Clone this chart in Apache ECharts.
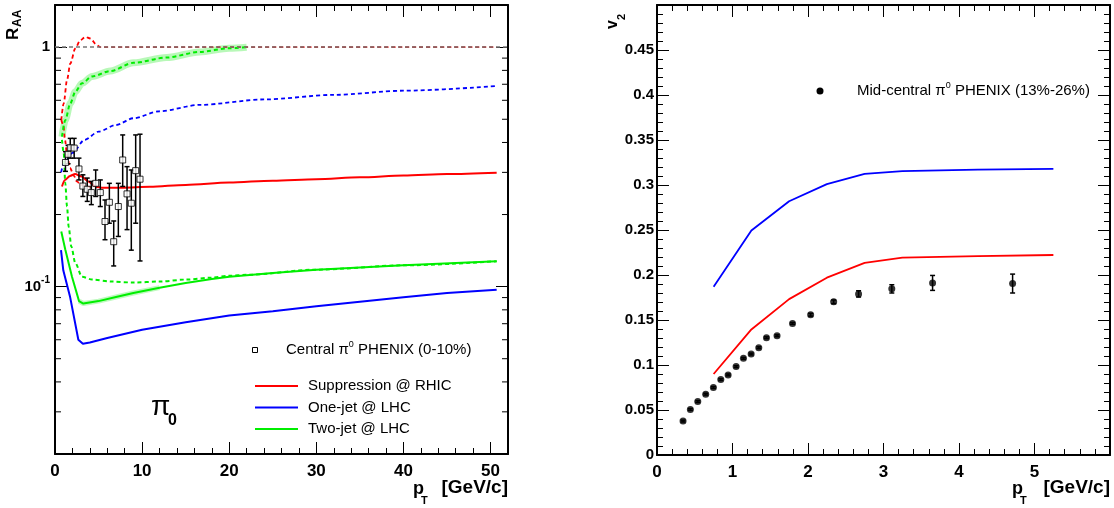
<!DOCTYPE html>
<html><head><meta charset="utf-8">
<script src="https://cdn.jsdelivr.net/npm/echarts@6/dist/echarts.min.js"></script>
<style>html,body{margin:0;padding:0;background:#fff}#c{width:1114px;height:508px}</style>
</head><body><div id="c"></div>
<script>
// ---------------- Left panel: R_AA vs pT ----------------
const phenixPt  = [1.2, 1.5, 1.75, 2.2, 2.75, 3.2, 3.7, 4.17, 4.67, 5.2, 5.74, 6.24, 6.74, 7.27, 7.77, 8.27, 8.76, 9.26, 9.76];
const phenixRaa = [0.330, 0.357, 0.380, 0.379, 0.310, 0.263, 0.255, 0.247, 0.270, 0.247, 0.187, 0.225, 0.154, 0.216, 0.338, 0.244, 0.223, 0.305, 0.281];
const phenixHi  = [0.366, 0.389, 0.416, 0.416, 0.344, 0.293, 0.284, 0.275, 0.307, 0.279, 0.230, 0.270, 0.188, 0.270, 0.430, 0.317, 0.307, 0.430, 0.433];
const phenixLo  = [0.303, 0.326, 0.344, 0.344, 0.279, 0.238, 0.227, 0.220, 0.238, 0.216, 0.157, 0.184, 0.122, 0.162, 0.262, 0.173, 0.142, 0.184, 0.128];

const rhicPt  = [0.8, 1.15, 1.72, 2.3, 3.06, 3.83, 4.6, 5.36, 7.65, 10.9, 15, 20, 25, 30, 35, 40, 45, 50.7];
const rhicVal = [0.262, 0.279, 0.290, 0.295, 0.288, 0.275, 0.263, 0.259, 0.259, 0.261, 0.266, 0.272, 0.277, 0.281, 0.286, 0.291, 0.295, 0.299];
const rhicUpPt  = [0.72, 1.0, 1.38, 1.76, 2.33, 2.9, 3.48, 4.05, 4.8, 5.2, 10, 20, 30, 40, 50.7];
const rhicUpVal = [0.496, 0.583, 0.729, 0.855, 0.988, 1.069, 1.104, 1.087, 1.02, 1.0, 1.0, 1.0, 1.0, 1.0, 1.0];
const rhicLoPt  = [0.72, 0.95, 1.15, 1.38, 1.72, 2.18, 2.5, 3.0, 4.0, 5.4];
const rhicLoVal = [0.496, 0.473, 0.41, 0.355, 0.313, 0.29, 0.275, 0.266, 0.261, 0.259];

const oneJetPt  = [0.69, 0.95, 1.72, 2.68, 3.2, 4.0, 6.0, 10, 15, 20, 25, 30, 35, 40, 45, 50.7];
const oneJetVal = [0.142, 0.117, 0.091, 0.060, 0.0577, 0.0584, 0.061, 0.066, 0.071, 0.0757, 0.079, 0.0828, 0.0865, 0.0902, 0.094, 0.0971];
const oneJetDashPt  = [0.7, 1.0, 2.0, 3.4, 5.0, 7.0, 9.0, 12.0, 16.6, 24.0, 32.0, 40.0, 50.7];
const oneJetDashVal = [0.30, 0.325, 0.362, 0.41, 0.444, 0.473, 0.505, 0.54, 0.574, 0.605, 0.632, 0.658, 0.688];

const twoJetPt  = [0.72, 1.18, 1.95, 2.76, 3.25, 5, 7, 9, 12, 15, 18, 20, 25, 30, 40, 50.7];
const twoJetVal = [0.170, 0.143, 0.110, 0.087, 0.085, 0.087, 0.0905, 0.094, 0.099, 0.1035, 0.1075, 0.110, 0.114, 0.1177, 0.1227, 0.1276];
const twoJetBandPt  = [2.76, 3.25, 5, 7, 9, 12];
const twoJetBandVal = [0.087, 0.085, 0.087, 0.0905, 0.094, 0.099];
const twoJetUpPt  = [0.8, 1.18, 1.76, 2.33, 3.1, 4.25, 6.35, 9, 12.8, 16.6, 20, 22];
const twoJetUpVal = [0.423, 0.496, 0.583, 0.651, 0.706, 0.755, 0.795, 0.86, 0.905, 0.955, 0.99, 1.0];
const twoJetLoPt  = [0.8, 1.0, 1.18, 1.38, 1.57, 1.87, 2.33, 3.1, 4.25, 6.5, 9, 12, 15, 18, 20, 22, 30, 40, 50.7];
const twoJetLoVal = [0.41, 0.362, 0.270, 0.216, 0.178, 0.147, 0.1255, 0.110, 0.107, 0.105, 0.104, 0.105, 0.107, 0.109, 0.111, 0.112, 0.1177, 0.1227, 0.1276];

const logMajorTicks = [0.1, 1];
const logMinorTicks = [0.03, 0.04, 0.05, 0.06, 0.07, 0.08, 0.09, 0.2, 0.3, 0.4, 0.5, 0.6, 0.7, 0.8, 0.9];

// ---------------- Right panel: v2 vs pT ----------------
const v2Pt  = [0.345, 0.442, 0.54, 0.645, 0.747, 0.845, 0.942, 1.048, 1.145, 1.247, 1.348, 1.45, 1.59, 1.795, 2.035, 2.34, 2.67, 3.11, 3.65, 4.71];
const v2Val = [0.0377, 0.0506, 0.0594, 0.0676, 0.075, 0.0838, 0.089, 0.0982, 0.1074, 0.1122, 0.1192, 0.1303, 0.1325, 0.1462, 0.1558, 0.1702, 0.179, 0.1846, 0.1912, 0.1905];
const v2Err = [0.001, 0.001, 0.001, 0.001, 0.001, 0.001, 0.001, 0.001, 0.001, 0.001, 0.001, 0.001, 0.001, 0.001, 0.0015, 0.002, 0.0035, 0.0046, 0.0083, 0.0105];
const modelPt   = [0.75, 1.25, 1.75, 2.25, 2.75, 3.25, 4.25, 5.25];
const oneJetV2  = [0.187, 0.2495, 0.282, 0.301, 0.3123, 0.3155, 0.317, 0.318];
const rhicV2    = [0.090, 0.1395, 0.1732, 0.197, 0.2134, 0.2192, 0.221, 0.2222];

// ---------------- helpers ----------------
const zip = (xs, ys) => xs.map((x, i) => [x, ys[i]]);
const FONT = '"Liberation Sans", Arial, Helvetica, sans-serif';
const RED = '#ff0000', BLUE = '#0000ff', GREEN = '#00ee00';

function baseX(grid, max, pos, labels) {
  return {
    gridIndex: grid, type: 'value', min: 0, max: max, interval: max > 10 ? 10 : 1, position: pos,
    axisLine: { show: true, onZero: false, lineStyle: { color: '#000', width: 2 } },
    axisTick: { show: true, inside: true, length: 12, lineStyle: { color: '#000', width: 1 } },
    minorTick: { show: true, splitNumber: 5, length: 6, lineStyle: { color: '#000', width: 1 } },
    splitLine: { show: false }, minorSplitLine: { show: false },
    axisLabel: labels ? { show: true, fontSize: 17, fontWeight: 'bold', color: '#000', fontFamily: FONT, margin: 9, showMaxLabel: false } : { show: false }
  };
}
function baseLogY(pos, labels) {
  return {
    gridIndex: 0, type: 'log', logBase: 10, min: 0.02, max: 1.5, position: pos,
    axisLine: { show: true, onZero: false, lineStyle: { color: '#000', width: 2 } },
    axisTick: { show: true, inside: true, length: 12, lineStyle: { color: '#000', width: 1 } },
    minorTick: { show: false }, splitLine: { show: false },
    axisLabel: labels ? {
      show: true, fontSize: 15, fontWeight: 'bold', color: '#000', fontFamily: FONT, margin: 5,
      showMinLabel: false, showMaxLabel: false,
      formatter: v => Math.abs(v - logMajorTicks[1]) < 1e-9 ? '1' : (Math.abs(v - logMajorTicks[0]) < 1e-9 ? '{m|10}{e|-1}' : ''),
      rich: {
        m: { fontSize: 15, fontWeight: 'bold', color: '#000', fontFamily: FONT, lineHeight: 22 },
        e: { fontSize: 10, fontWeight: 'bold', color: '#000', fontFamily: FONT, lineHeight: 11, verticalAlign: 'top' }
      }
    } : { show: false }
  };
}
function baseLinY(pos, labels) {
  return {
    gridIndex: 1, type: 'value', min: 0, max: 0.5, interval: 0.05, position: pos,
    axisLine: { show: true, onZero: false, lineStyle: { color: '#000', width: 2 } },
    axisTick: { show: true, inside: true, length: 12, lineStyle: { color: '#000', width: 1 } },
    minorTick: { show: true, splitNumber: 5, length: 6, lineStyle: { color: '#000', width: 1 } },
    splitLine: { show: false }, minorSplitLine: { show: false },
    axisLabel: labels ? { show: true, fontSize: 15, fontWeight: 'bold', color: '#000', fontFamily: FONT, margin: 3, showMaxLabel: false } : { show: false }
  };
}
function lineSeries(xs, ys, color, dashed, width, xi, yi, z, extra) {
  return Object.assign({
    type: 'line', xAxisIndex: xi, yAxisIndex: yi, data: zip(xs, ys), symbol: 'none', showSymbol: false,
    smooth: 0.3, smoothMonotone: 'x', silent: true, z: z || 2,
    lineStyle: { color: color, width: width || 2, type: dashed ? [4, 3] : 'solid' }
  }, extra || {});
}
function errRender(capHalf, width) {
  return function (params, api) {
    const x = api.value(0), lo = api.value(1), hi = api.value(2);
    const a = api.coord([x, lo]), b = api.coord([x, hi]);
    const st = { stroke: '#000', lineWidth: width };
    return { type: 'group', children: [
      { type: 'line', shape: { x1: a[0], y1: a[1], x2: b[0], y2: b[1] }, style: st },
      { type: 'line', shape: { x1: a[0] - capHalf, y1: a[1], x2: a[0] + capHalf, y2: a[1] }, style: st },
      { type: 'line', shape: { x1: b[0] - capHalf, y1: b[1], x2: b[0] + capHalf, y2: b[1] }, style: st }
    ] };
  };
}

const series = [
  // green bands (uncertainty) around the two-jet curves
  lineSeries(twoJetUpPt, twoJetUpVal, 'rgba(0,230,0,0.28)', false, 7, 0, 0, 1),
  lineSeries(twoJetBandPt, twoJetBandVal, 'rgba(0,230,0,0.25)', false, 5, 0, 0, 1, { smooth: false }),
  // reference line at 1 + red dashed
  lineSeries(rhicUpPt, rhicUpVal, RED, true, 1.8, 0, 0, 2, {
    markLine: { silent: true, symbol: 'none', label: { show: false },
      lineStyle: { color: '#777', type: [4, 3], width: 1.5 }, data: [{ yAxis: 1 }] }
  }),
  lineSeries(rhicLoPt, rhicLoVal, RED, true, 1.8, 0, 0, 2),
  lineSeries(twoJetUpPt, twoJetUpVal, GREEN, true, 2, 0, 0, 3),
  lineSeries(twoJetLoPt, twoJetLoVal, GREEN, true, 2, 0, 0, 3),
  lineSeries(oneJetDashPt, oneJetDashVal, BLUE, true, 1.8, 0, 0, 2),
  lineSeries(rhicPt, rhicVal, RED, false, 2, 0, 0, 3),
  lineSeries(oneJetPt, oneJetVal, BLUE, false, 2, 0, 0, 3, { smooth: false }),
  lineSeries(twoJetPt, twoJetVal, GREEN, false, 2, 0, 0, 3, { smooth: false }),
  // log minor ticks (left & right frame)
  {
    type: 'custom', xAxisIndex: 0, yAxisIndex: 0, silent: true, clip: false, z: 6,
    data: logMinorTicks.map(v => [0, v]), encode: { x: 0, y: 1 },
    renderItem: (p, api) => {
      const v = api.value(1);
      const a = api.coord([0, v]), b = api.coord([52, v]);
      const st = { stroke: '#000', lineWidth: 1 };
      return { type: 'group', children: [
        { type: 'line', shape: { x1: a[0], y1: a[1], x2: a[0] + 6, y2: a[1] }, style: st },
        { type: 'line', shape: { x1: b[0] - 6, y1: b[1], x2: b[0], y2: b[1] }, style: st }
      ] };
    }
  },
  // PHENIX R_AA
  {
    type: 'custom', xAxisIndex: 0, yAxisIndex: 0, silent: true, z: 7,
    data: phenixPt.map((x, i) => [x, phenixLo[i], phenixHi[i]]), encode: { x: 0, y: [1, 2] },
    renderItem: errRender(2.5, 1.5)
  },
  {
    type: 'scatter', xAxisIndex: 0, yAxisIndex: 0, silent: true, z: 8,
    data: zip(phenixPt, phenixRaa), symbol: 'rect', symbolSize: 6,
    itemStyle: { color: '#fff', borderColor: '#000', borderWidth: 1 }
  },
  // right panel
  lineSeries(modelPt, oneJetV2, BLUE, false, 1.8, 2, 2, 3, { smooth: false }),
  lineSeries(modelPt, rhicV2, RED, false, 1.8, 2, 2, 3, { smooth: false }),
  {
    type: 'custom', xAxisIndex: 2, yAxisIndex: 2, silent: true, z: 7,
    data: v2Pt.map((x, i) => [x, v2Val[i] - v2Err[i], v2Val[i] + v2Err[i]]), encode: { x: 0, y: [1, 2] },
    renderItem: errRender(2.5, 1.5)
  },
  {
    type: 'scatter', xAxisIndex: 2, yAxisIndex: 2, silent: true, z: 8,
    data: zip(v2Pt, v2Val), symbol: 'circle', symbolSize: 7, itemStyle: { color: '#000' }
  }
];

const txt = (x, y, text, size, bold, align, vAlign, rot, extra) => ({
  type: 'text', x: x, y: y, rotation: rot || 0, silent: true, z: 100,
  style: Object.assign({ text: text, fill: '#000', font: (bold ? 'bold ' : '') + size + 'px ' + FONT,
    align: align || 'left', verticalAlign: vAlign || 'middle' }, extra || {})
});
const supRich = {
  n: { fontSize: 15, fontFamily: FONT, fill: '#000', color: '#000', lineHeight: 20 },
  s: { fontSize: 9, fontFamily: FONT, fill: '#000', color: '#000', lineHeight: 10, verticalAlign: 'top' }
};

const graphic = [
  // axis titles
  txt(13, 40, 'R', 17, true, 'left', 'middle', Math.PI / 2),
  txt(17.5, 27, 'AA', 12, true, 'left', 'middle', Math.PI / 2),
  txt(613, 29, 'v', 16, true, 'left', 'middle', Math.PI / 2),
  txt(621.5, 20, '2', 11, true, 'left', 'middle', Math.PI / 2),
  txt(413, 489, 'p', 18, true, 'left', 'middle'),
  txt(421, 501, 'T', 11, true, 'left', 'middle'),
  txt(508, 488, '[GeV/c]', 19, true, 'right', 'middle'),
  txt(1012, 489, 'p', 18, true, 'left', 'middle'),
  txt(1020, 501, 'T', 11, true, 'left', 'middle'),
  txt(1110, 488, '[GeV/c]', 19, true, 'right', 'middle'),
  // pi0 label
  txt(151, 407, 'π', 28, false, 'left', 'middle'),
  txt(168, 421, '0', 16, true, 'left', 'middle'),
  // left legend
  { type: 'rect', silent: true, z: 100, shape: { x: 252.5, y: 347.5, width: 5, height: 5 }, style: { fill: '#fff', stroke: '#000', lineWidth: 1 } },
  txt(286, 350, '{n|Central π}{s|0}{n| PHENIX (0-10%)}', 15, false, 'left', 'middle', 0, { rich: supRich }),
  { type: 'line', silent: true, z: 100, shape: { x1: 255, y1: 386, x2: 298, y2: 386 }, style: { stroke: RED, lineWidth: 2 } },
  { type: 'line', silent: true, z: 100, shape: { x1: 255, y1: 407.5, x2: 298, y2: 407.5 }, style: { stroke: BLUE, lineWidth: 2 } },
  { type: 'line', silent: true, z: 100, shape: { x1: 255, y1: 429, x2: 298, y2: 429 }, style: { stroke: GREEN, lineWidth: 2 } },
  txt(308, 386, 'Suppression @ RHIC', 15, false),
  txt(308, 407.5, 'One-jet @ LHC', 15, false),
  txt(308, 429, 'Two-jet @ LHC', 15, false),
  // right legend
  { type: 'circle', silent: true, z: 100, shape: { cx: 820, cy: 91, r: 3.5 }, style: { fill: '#000' } },
  txt(857, 91, '{n|Mid-central π}{s|0}{n| PHENIX (13%-26%)}', 15, false, 'left', 'middle', 0, { rich: supRich })
];

const option = {
  animation: false,
  backgroundColor: '#fff',
  grid: [
    { left: 55, top: 5, width: 453, height: 449 },
    { left: 657, top: 5, width: 453, height: 450 }
  ],
  xAxis: [baseX(0, 52, 'bottom', true), baseX(0, 52, 'top', false), baseX(1, 6, 'bottom', true), baseX(1, 6, 'top', false)],
  yAxis: [baseLogY('left', true), baseLogY('right', false), baseLinY('left', true), baseLinY('right', false)],
  series: series,
  graphic: graphic
};
const chart = echarts.init(document.getElementById('c'));
chart.setOption(option);
</script></body></html>
